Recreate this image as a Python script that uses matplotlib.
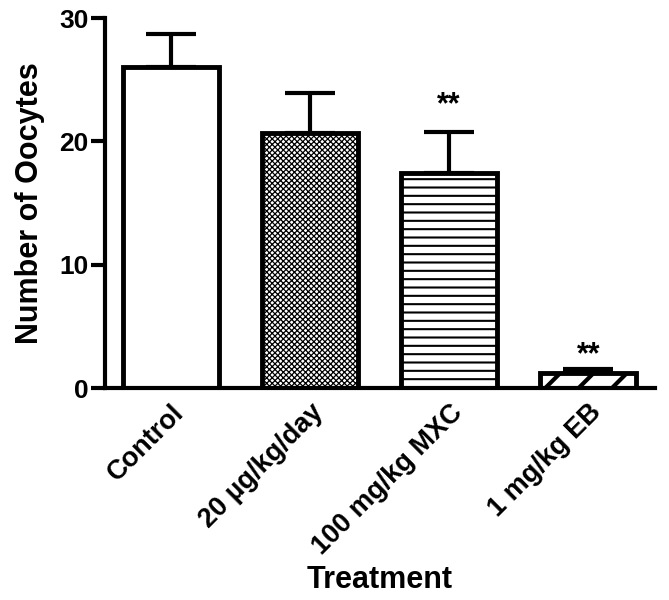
import matplotlib
matplotlib.use("Agg")
import matplotlib.pyplot as plt
import numpy as np

categories = ["Control", "20 µg/kg/day", "100 mg/kg MXC", "1 mg/kg EB"]
means = [26.0, 20.7, 17.4, 1.2]
errors = [2.7, 3.2, 3.4, 0.35]
signif = ["", "", "**", "**"]

# styling
hatches = ["", "xxxxxx", "--", "/"]
hatch_lw = [1.0, 0.9, 1.5, 3.0]
star_offset = [1.0, 1.0, 0.9, -0.1]

plt.rcParams['font.family'] = ['Liberation Sans', 'DejaVu Sans']
plt.rcParams['font.weight'] = 'bold'

fig = plt.figure(figsize=(6.69, 6.0), dpi=100)
ax = fig.add_axes([0.157, 0.353, 0.822, 0.617])

x = np.arange(len(categories))
for i in range(len(categories)):
    plt.rcParams['hatch.linewidth'] = hatch_lw[i]
    bars = ax.bar(x[i], means[i], width=0.69, color="white", edgecolor="black",
                  linewidth=3.5, hatch=hatches[i], zorder=2)
    for b in bars:
        if hasattr(b, "set_hatch_linewidth"):
            b.set_hatch_linewidth(hatch_lw[i])
    ax.errorbar(x[i], means[i], yerr=[[0], [errors[i]]], fmt="none",
                ecolor="black", elinewidth=3, capsize=18, capthick=3, zorder=1)
    if signif[i]:
        ax.text(x[i], means[i] + errors[i] + star_offset[i], signif[i], ha="center",
                va="bottom", fontsize=22, fontweight="bold")

ax.set_xlim(-0.475, 3.48)
ax.set_ylim(0, 30)
ax.set_yticks([0, 10, 20, 30])
ax.set_xticks(x)
ax.set_xticklabels(categories, rotation=45, ha="right", rotation_mode="anchor",
                   fontsize=19.5, fontweight="bold")
for lab in ax.get_yticklabels():
    lab.set_fontsize(19)
    lab.set_fontweight("bold")
ax.tick_params(axis="y", width=3, length=10, pad=2)
ax.tick_params(axis="x", length=0, pad=8)
for s in ["top", "right"]:
    ax.spines[s].set_visible(False)
for s in ["left", "bottom"]:
    ax.spines[s].set_linewidth(3)
ax.set_ylabel("Number of Oocytes", fontsize=22, fontweight="bold", labelpad=10)
ax.set_xlabel("Treatment", fontsize=22, fontweight="bold", labelpad=4)

fig.savefig("out.png", dpi=100)
